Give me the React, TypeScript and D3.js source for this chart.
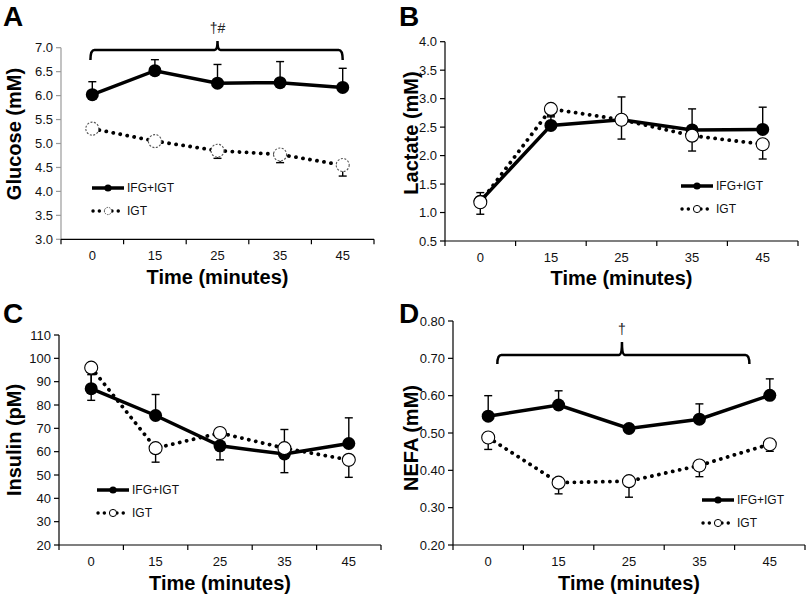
import React from "react";
import * as d3 from "d3";

const categories = ["0", "15", "25", "35", "45"];

const glucoseIFG = [6.02, 6.52, 6.26, 6.27, 6.17];
const glucoseIFGErr = [6.29, 6.75, 6.65, 6.71, 6.57];
const glucoseIGT = [5.31, 5.05, 4.85, 4.77, 4.55];
const glucoseIGTErr = [5.22, 4.97, 4.69, 4.6, 4.32];

const lactateIFG = [1.2, 2.53, 2.63, 2.45, 2.46];
const lactateIFGErr = [1.35, 2.7, 3.03, 2.82, 2.85];
const lactateIGT = [1.18, 2.82, 2.63, 2.35, 2.2];
const lactateIGTErr = [0.97, 2.68, 2.29, 2.08, 1.94];

const insulinIFG = [87, 75.5, 62.5, 59, 63.5];
const insulinIFGErr = [93, 84.5, 70, 69.5, 74.5];
const insulinIGT = [96, 61.5, 68, 61.5, 56.5];
const insulinIGTErr = [82, 55.5, 56.5, 51, 49];

const nefaIFG = [0.545, 0.575, 0.512, 0.537, 0.601];
const nefaIFGErr = [0.6, 0.613, 0.52, 0.578, 0.645];
const nefaIGT = [0.488, 0.367, 0.371, 0.413, 0.47];
const nefaIGTErr = [0.456, 0.337, 0.328, 0.383, 0.451];

const seriesNames = ["IFG+IGT", "IGT"];

type PanelCfg = {
  letter: string;
  yTitle: string;
  domain: [number, number];
  step: number;
  fmt: string;
  ifg: number[];
  ifgErr: number[];
  igt: number[];
  igtErr: number[];
  left: number;
  right: number;
  top: number;
  bottom: number;
  letterX: number;
  letterY: number;
  yTitleX: number;
  yTitleY: number;
  xTitleY: number;
  legendX: number;
  legendY: number;
  grayAxis?: boolean;
  dashedMarkers?: boolean;
  bracket?: { from: number; to: number; mid: number; label: string; rise: number; drop: number; y: number };
};

const panels: PanelCfg[] = [
  {
    letter: "A", yTitle: "Glucose (mM)", domain: [3, 7], step: 0.5, fmt: ".1f",
    ifg: glucoseIFG, ifgErr: glucoseIFGErr, igt: glucoseIGT, igtErr: glucoseIGTErr,
    left: 61, right: 374, top: 47.7, bottom: 239.3,
    letterX: 3, letterY: 26, yTitleX: 21, yTitleY: 134, xTitleY: 284,
    legendX: 92, legendY: 188, grayAxis: true, dashedMarkers: true,
    bracket: { from: -0.03, to: 4.0, mid: 2.0, label: "†#", rise: 9, drop: 10, y: 6.95 },
  },
  {
    letter: "B", yTitle: "Lactate (mM)", domain: [0.5, 4], step: 0.5, fmt: ".1f",
    ifg: lactateIFG, ifgErr: lactateIFGErr, igt: lactateIGT, igtErr: lactateIGTErr,
    left: 445, right: 798, top: 41.7, bottom: 241,
    letterX: 399, letterY: 26, yTitleX: 418, yTitleY: 133, xTitleY: 285,
    legendX: 681, legendY: 186,
  },
  {
    letter: "C", yTitle: "Insulin (pM)", domain: [20, 110], step: 10, fmt: "d",
    ifg: insulinIFG, ifgErr: insulinIFGErr, igt: insulinIGT, igtErr: insulinIGTErr,
    left: 59, right: 381, top: 335, bottom: 545,
    letterX: 3, letterY: 323, yTitleX: 21, yTitleY: 440, xTitleY: 590,
    legendX: 97, legendY: 490,
  },
  {
    letter: "D", yTitle: "NEFA (mM)", domain: [0.2, 0.8], step: 0.1, fmt: ".2f",
    ifg: nefaIFG, ifgErr: nefaIFGErr, igt: nefaIGT, igtErr: nefaIGTErr,
    left: 453, right: 805, top: 321, bottom: 545,
    letterX: 399, letterY: 323, yTitleX: 418, yTitleY: 438, xTitleY: 590,
    legendX: 702, legendY: 500,
    bracket: { from: 0.13, to: 3.71, mid: 1.9, label: "†", rise: 13, drop: 9, y: 0.709 },
  },
];

const FONT = "'Liberation Sans', Arial, sans-serif";

function Panel({ p }: { p: PanelCfg }) {
  const x = d3.scaleBand<string>().domain(categories).range([p.left, p.right]).padding(0);
  const y = d3.scaleLinear().domain(p.domain).range([p.bottom, p.top]);
  const cx = (i: number) => (x(categories[0]) as number) + x.bandwidth() / 2 + i * x.step();
  const ticks = d3.range(p.domain[0], p.domain[1] + p.step / 2, p.step);
  const fmt = d3.format(p.fmt);
  const line = d3.line<number>().x((_, i) => cx(i)).y((v) => y(v));
  const axisColor = p.grayAxis ? "#9a9a9a" : "#000";
  const boundaries = d3.range(categories.length + 1).map((i) => p.left + i * x.step());
  const r = 6.5;
  const capW = 4;

  let bracketPath = "";
  let bx = 0, by = 0;
  if (p.bracket) {
    const b = p.bracket;
    const x0 = cx(b.from), x1 = cx(b.to), xm = cx(b.mid);
    by = y(b.y);
    bx = xm;
    bracketPath = `M${x0},${by + b.drop} Q${x0},${by} ${x0 + 4},${by} L${xm - 3},${by} Q${xm},${by} ${xm},${by - b.rise} Q${xm},${by} ${xm + 3},${by} L${x1 - 4},${by} Q${x1},${by} ${x1},${by + b.drop}`;
  }

  const lx0 = p.legendX, lx1 = p.legendX + 32, lxm = p.legendX + 16;

  return (
    <g fontFamily={FONT}>
      <text x={p.letterX} y={p.letterY} fontSize={28} fontWeight="bold">{p.letter}</text>
      {/* y axis */}
      <line x1={p.left} x2={p.left} y1={p.top} y2={p.bottom} stroke={axisColor} strokeWidth={1.2} />
      {ticks.map((t) => (
        <g key={t}>
          <line x1={p.left - 5} x2={p.left} y1={y(t)} y2={y(t)} stroke={axisColor} strokeWidth={1.2} />
          <text x={p.left - 8} y={y(t)} dy="0.35em" textAnchor="end" fontSize={13} fill="#111">{fmt(t)}</text>
        </g>
      ))}
      {/* x axis */}
      <line x1={p.left} x2={p.right} y1={p.bottom} y2={p.bottom} stroke="#000" strokeWidth={1.2} />
      {boundaries.map((b, i) => (
        <line key={i} x1={b} x2={b} y1={p.bottom} y2={p.bottom + 5} stroke="#000" strokeWidth={1.2} />
      ))}
      {categories.map((c, i) => (
        <text key={c} x={cx(i)} y={p.bottom + 21} textAnchor="middle" fontSize={13} fill="#111">{c}</text>
      ))}
      <text x={(p.left + p.right) / 2} y={p.xTitleY} textAnchor="middle" fontSize={20} fontWeight="bold">Time (minutes)</text>
      <text transform={`translate(${p.yTitleX},${p.yTitleY}) rotate(-90)`} textAnchor="middle" fontSize={20} fontWeight="bold">{p.yTitle}</text>

      {/* bracket */}
      {p.bracket && (
        <g>
          <path d={bracketPath} fill="none" stroke="#000" strokeWidth={2.5} />
          <text x={bx} y={by - p.bracket.rise - 8} textAnchor="middle" fontSize={14} fill="#222">{p.bracket.label}</text>
        </g>
      )}

      {/* error bars */}
      {p.ifg.map((v, i) => (
        <g key={"e1" + i} stroke="#000" strokeWidth={1.4}>
          <line x1={cx(i)} x2={cx(i)} y1={y(v)} y2={y(p.ifgErr[i])} />
          <line x1={cx(i) - capW} x2={cx(i) + capW} y1={y(p.ifgErr[i])} y2={y(p.ifgErr[i])} />
        </g>
      ))}
      {p.igt.map((v, i) => (
        <g key={"e2" + i} stroke="#000" strokeWidth={1.4}>
          <line x1={cx(i)} x2={cx(i)} y1={y(v)} y2={y(p.igtErr[i])} />
          <line x1={cx(i) - capW} x2={cx(i) + capW} y1={y(p.igtErr[i])} y2={y(p.igtErr[i])} />
        </g>
      ))}

      {/* lines */}
      <path d={line(p.ifg) || ""} fill="none" stroke="#000" strokeWidth={3.5} />
      <path d={line(p.igt) || ""} fill="none" stroke="#000" strokeWidth={3.8} strokeDasharray="0.1,7" strokeLinecap="round" />

      {/* markers */}
      {p.ifg.map((v, i) => (
        <circle key={"m1" + i} cx={cx(i)} cy={y(v)} r={r} fill="#000" />
      ))}
      {p.igt.map((v, i) => (
        <circle key={"m2" + i} cx={cx(i)} cy={y(v)} r={r} fill="#fff"
          stroke={p.dashedMarkers ? "#555" : "#000"} strokeWidth={1.1}
          strokeDasharray={p.dashedMarkers ? "2,1.5" : undefined} />
      ))}

      {/* legend */}
      <line x1={lx0} x2={lx1} y1={p.legendY} y2={p.legendY} stroke="#000" strokeWidth={3.5} />
      <circle cx={lxm} cy={p.legendY} r={3.6} fill="#000" />
      <text x={lx1 + 3} y={p.legendY} dy="0.35em" fontSize={12} fill="#111">{seriesNames[0]}</text>
      <line x1={lx0 + 1} x2={lx1} y1={p.legendY + 23} y2={p.legendY + 23} stroke="#000" strokeWidth={3.4} strokeDasharray="0.1,6.2" strokeLinecap="round" />
      <circle cx={lxm} cy={p.legendY + 23} r={3.6} fill="#fff" stroke={p.dashedMarkers ? "#555" : "#000"} strokeWidth={1}
        strokeDasharray={p.dashedMarkers ? "1.5,1" : undefined} />
      <text x={lx1 + 3} y={p.legendY + 23} dy="0.35em" fontSize={12} fill="#111">{seriesNames[1]}</text>
    </g>
  );
}

export default function App() {
  return (
    <svg width={807} height={609} style={{ position: "absolute", left: 0, top: 0, background: "#fff" }}>
      <rect width={807} height={609} fill="#fff" />
      {panels.map((p) => (
        <Panel key={p.letter} p={p} />
      ))}
    </svg>
  );
}
